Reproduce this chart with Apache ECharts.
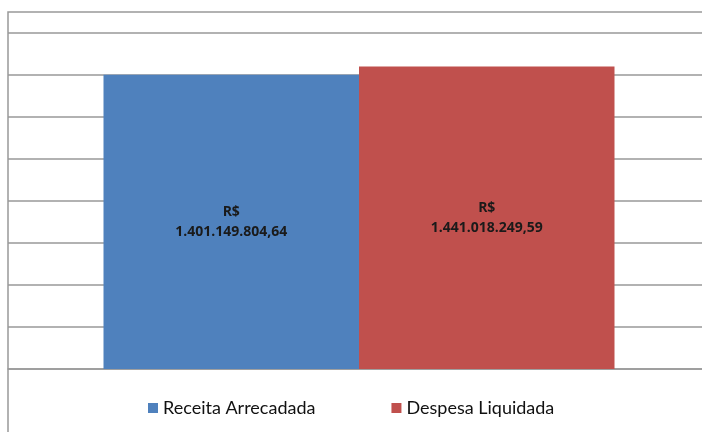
<!DOCTYPE html>
<html>
<head>
<meta charset="utf-8">
<script src="https://cdn.jsdelivr.net/npm/echarts@6/dist/echarts.min.js"></script>
<style>
  html, body { margin: 0; padding: 0; background: #fff; }
  #chart { width: 702px; height: 432px; }
</style>
</head>
<body>
<div id="chart"></div>
<script>
var categories = ['']
var seriesNames = ['Receita Arrecadada', 'Despesa Liquidada']
var seriesValues = [1401149804.64, 1441018249.59]
var seriesColors = ['#4f81bd', '#c0504d']

// formato brasileiro: 1.401.149.804,64
function brl(v) {
  var parts = v.toFixed(2).split('.')
  var inteiro = parts[0].replace(/\B(?=(\d{3})+(?!\d))/g, '.')
  return 'R$\n' + inteiro + ',' + parts[1]
}

var chart = echarts.init(document.getElementById('chart'))

var series = seriesNames.map(function (name, i) {
  return {
    name: name,
    type: 'bar',
    barWidth: 255.5,
    barGap: '0%',
    data: [seriesValues[i]],
    itemStyle: { color: seriesColors[i] },
    label: {
      show: true,
      position: 'inside',
      formatter: function (p) { return brl(p.value) },
      color: '#1a1a1a',
      fontFamily: 'Open Sans',
      fontWeight: 'bold',
      fontSize: 14,
      lineHeight: 20,
      align: 'center'
    }
  }
})

var option = {
  backgroundColor: '#fff',
  animation: false,
  grid: { left: 8, width: 702, top: 33, bottom: 63, containLabel: false, outerBoundsMode: 'none' },
  legend: {
    bottom: 10,
    left: 143,
    icon: 'rect',
    itemWidth: 10,
    itemHeight: 10,
    itemGap: 76,
    textStyle: { fontFamily: 'Lato', fontSize: 18, color: '#111' },
    data: seriesNames
  },
  graphic: [{
    type: 'rect',
    shape: { x: 8, y: 12, width: 720, height: 440 },
    style: { fill: 'none', stroke: '#999', lineWidth: 1.5 },
    silent: true
  }],
  xAxis: {
    type: 'category',
    data: categories,
    axisLine: { show: true, lineStyle: { color: '#999', width: 1.5 } },
    axisTick: { show: false },
    axisLabel: { show: false }
  },
  yAxis: {
    type: 'value',
    min: 0,
    max: 1600000000,
    interval: 200000000,
    axisLine: { show: false },
    axisTick: { show: false },
    axisLabel: { show: false },
    splitLine: { lineStyle: { color: '#999', width: 1.5 } }
  },
  series: series
}

chart.setOption(option)
</script>
</body>
</html>
